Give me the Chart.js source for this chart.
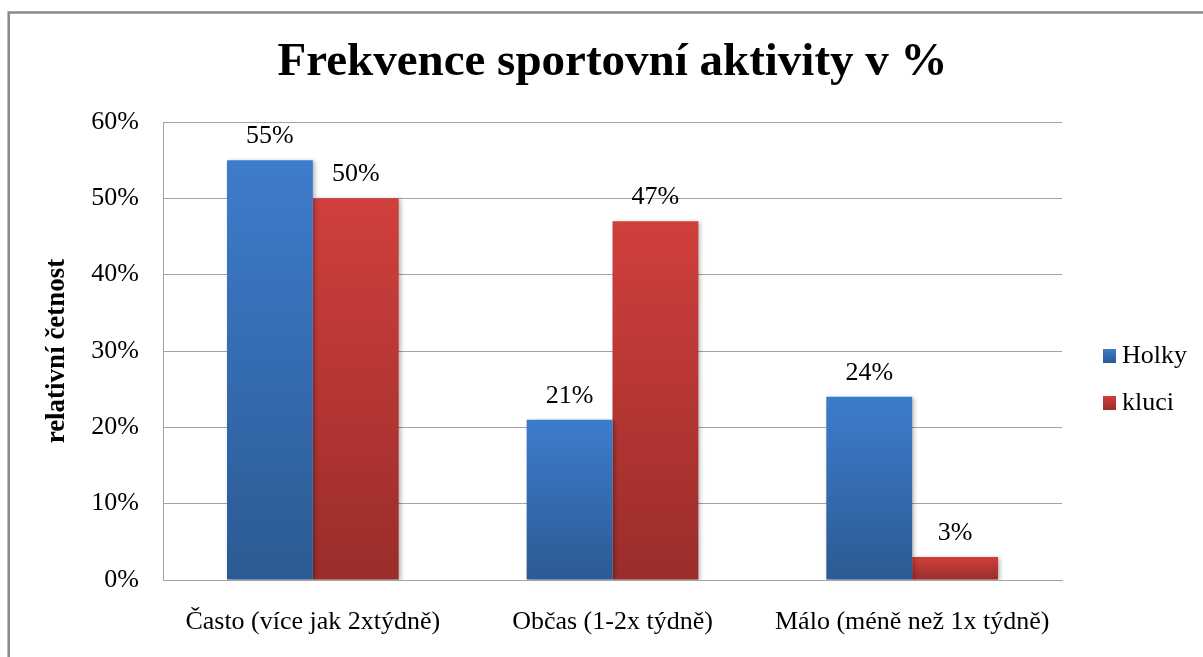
<!DOCTYPE html>
<html>
<head>
<meta charset="utf-8">
<script src="https://cdn.jsdelivr.net/npm/chart.js@4/dist/chart.umd.min.js"></script>
<style>
  html, body { margin: 0; padding: 0; background: #fff; }
  #wrap { width: 1203px; height: 657px; position: relative; }
</style>
</head>
<body>
<div id="wrap"><canvas id="c" width="1203" height="657"></canvas></div>
<script>
// Chart data
const categories = ['Často (více jak 2xtýdně)', 'Občas (1-2x týdně)', 'Málo (méně než 1x týdně)'];
const seriesNames = ['Holky', 'kluci'];
const holky = [55, 21, 24];
const kluci = [50, 47, 3];
const yTicks = [0, 10, 20, 30, 40, 50, 60];

const SERIF = '"Liberation Serif", "Times New Roman", serif';
const TEXT_SIZE = 26;

// Top-to-bottom shading of each series
const shades = {
  blue: ['#3d7ccc', '#2c5a93'],
  red:  ['#d03f3c', '#9a2d2a']
};

function barGradient(pair) {
  return (ctx) => {
    const chart = ctx.chart;
    if (ctx.type !== 'data' || !chart.scales || !chart.scales.y) return pair[0];
    const y = chart.scales.y;
    const top = y.getPixelForValue(ctx.raw);
    const bottom = y.getPixelForValue(0);
    if (!isFinite(top) || !isFinite(bottom) || top === bottom) return pair[0];
    const g = chart.ctx.createLinearGradient(0, top, 0, bottom);
    g.addColorStop(0, pair[0]);
    g.addColorStop(1, pair[1]);
    return g;
  };
}

// Outer frame of the chart
const framePlugin = {
  id: 'frame',
  beforeDraw(chart) {
    const c = chart.ctx;
    c.save();
    c.fillStyle = '#ffffff';
    c.fillRect(0, 0, chart.width, chart.height);
    c.strokeStyle = '#8a8a8a';
    c.lineWidth = 2.5;
    c.strokeRect(8.7, 12.5, chart.width + 20, chart.height + 20);
    c.restore();
  }
};

// Soft shadow behind the bars
const shadowPlugin = {
  id: 'barShadow',
  beforeDatasetsDraw(chart) {
    const c = chart.ctx;
    c.save();
    c.shadowColor = 'rgba(0,0,0,0.28)';
    c.shadowBlur = 4;
    c.shadowOffsetX = 2;
    c.shadowOffsetY = 1;
  },
  afterDatasetsDraw(chart) {
    chart.ctx.restore();
  }
};

// Percentage labels above the bars
const valueLabels = {
  id: 'valueLabels',
  afterDraw(chart) {
    const c = chart.ctx;
    c.save();
    c.font = TEXT_SIZE + 'px ' + SERIF;
    c.fillStyle = '#000';
    c.textAlign = 'center';
    c.textBaseline = 'alphabetic';
    chart.data.datasets.forEach((ds, i) => {
      chart.getDatasetMeta(i).data.forEach((bar, j) => {
        c.fillText(ds.data[j] + '%', bar.x, bar.y - 17);
      });
    });
    c.restore();
  }
};

// Legend on the right side
const sideLegend = {
  id: 'sideLegend',
  afterDraw(chart) {
    const c = chart.ctx;
    const x = chart.chartArea.right + 41;
    const baselines = [363, 410];
    c.save();
    c.font = TEXT_SIZE + 'px ' + SERIF;
    c.textBaseline = 'alphabetic';
    chart.data.datasets.forEach((ds, i) => {
      const b = baselines[i];
      const pair = ds.shade;
      const g = c.createLinearGradient(0, b - 14, 0, b);
      g.addColorStop(0, pair[0]);
      g.addColorStop(1, pair[1]);
      c.fillStyle = g;
      c.fillRect(x, b - 14, 13, 14);
      c.fillStyle = '#000';
      c.textAlign = 'left';
      c.fillText(ds.label, x + 19, b);
    });
    c.restore();
  }
};

const gridGray = '#a3a3a3';

new Chart(document.getElementById('c'), {
  type: 'bar',
  data: {
    labels: categories,
    datasets: [
      { label: seriesNames[0], data: holky, shade: shades.blue, backgroundColor: barGradient(shades.blue) },
      { label: seriesNames[1], data: kluci, shade: shades.red, backgroundColor: barGradient(shades.red) }
    ]
  },
  options: {
    responsive: false,
    animation: false,
    devicePixelRatio: 1,
    layout: { padding: { left: 0, top: 0, right: 141, bottom: 0 } },
    datasets: {
      bar: { categoryPercentage: 0.573, barPercentage: 1.0, borderWidth: 0 }
    },
    plugins: {
      legend: { display: false },
      tooltip: { enabled: false },
      title: {
        display: true,
        fullSize: false,
        text: 'Frekvence sportovní aktivity v %',
        color: '#000',
        font: { family: SERIF, size: 47, weight: 'bold', lineHeight: 1.2 },
        padding: { top: 35, bottom: 30.6 }
      }
    },
    scales: {
      x: {
        grid: { display: false, drawTicks: false },
        border: { display: true, color: gridGray, width: 1 },
        ticks: { color: '#000', font: { family: SERIF, size: TEXT_SIZE }, padding: 27, maxRotation: 0, autoSkip: false },
        afterFit(s) { s.height = 77; }
      },
      y: {
        min: yTicks[0],
        max: yTicks[yTicks.length - 1],
        grid: { color: gridGray, drawTicks: false },
        border: { display: true, color: gridGray, width: 1 },
        ticks: {
          stepSize: yTicks[1] - yTicks[0],
          color: '#000',
          font: { family: SERIF, size: TEXT_SIZE },
          padding: 24,
          callback: (v) => v + '%'
        },
        title: {
          display: true,
          text: 'relativní četnost',
          color: '#000',
          font: { family: SERIF, size: 27, weight: 'bold', lineHeight: 1.2 },
          padding: { top: 41, bottom: 0 }
        },
        afterFit(s) { s.width = 163; }
      }
    }
  },
  plugins: [framePlugin, shadowPlugin, valueLabels, sideLegend]
});
</script>
</body>
</html>
